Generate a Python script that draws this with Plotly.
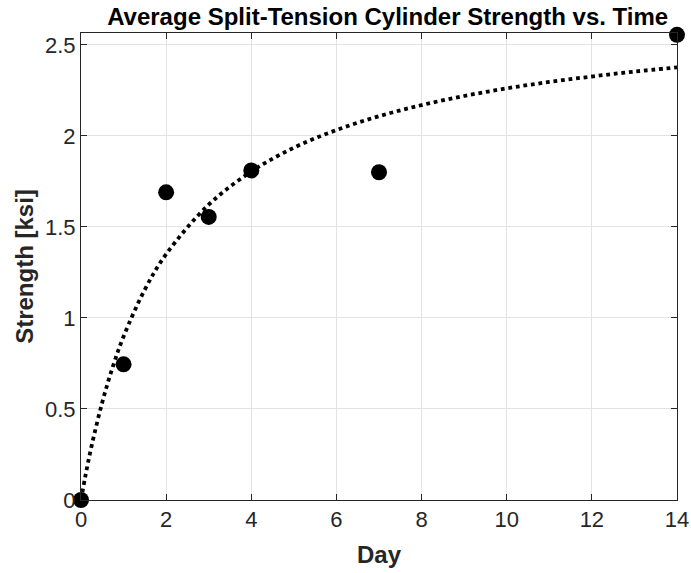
import plotly.graph_objects as go

days = [0, 1, 2, 3, 4, 7, 14]
strength = [0.0, 0.745, 1.69, 1.555, 1.81, 1.80, 2.555]

fit_days = [0, 0.1, 0.25, 0.5, 0.75, 1, 1.5, 2, 3, 4, 5, 6, 7, 8, 9, 10, 11, 12, 13, 14]
fit_strength = [0.0, 0.128, 0.298, 0.537, 0.734, 0.898, 1.156, 1.350, 1.622, 1.804,
                1.935, 2.032, 2.108, 2.169, 2.219, 2.261, 2.296, 2.326, 2.353, 2.376]

x_ticks = [0, 2, 4, 6, 8, 10, 12, 14]
y_ticks = [0, 0.5, 1, 1.5, 2, 2.5]

font = "Liberation Sans, Arial, sans-serif"

fig = go.Figure()
fig.add_trace(go.Scatter(x=fit_days, y=fit_strength, mode="lines",
                         line=dict(color="black", width=3.8, dash="dot", shape="spline"),
                         cliponaxis=False, showlegend=False))
fig.add_trace(go.Scatter(x=days, y=strength, mode="markers",
                         marker=dict(color="black", size=16),
                         cliponaxis=False, showlegend=False))

axis_common = dict(showline=True, linecolor="#262626", linewidth=1, mirror="allticks",
                   ticks="inside", ticklen=6, tickcolor="#262626", automargin=False,
                   showgrid=True, gridcolor="#e3e3e3", gridwidth=1, zeroline=False,
                   tickfont=dict(family=font, size=22, color="#262626"))

fig.update_layout(
    width=691, height=573,
    margin=dict(l=81, r=14, t=33, b=73),
    paper_bgcolor="white", plot_bgcolor="white",
    title=dict(text="<b>Average Split-Tension Cylinder Strength vs. Time</b>",
               x=0.561, xanchor="center", y=0.985, yanchor="top",
               font=dict(family=font, size=24, color="black")),
    xaxis=dict(range=[0, 14], tickvals=x_ticks,
               title=dict(text="<b>Day</b>", font=dict(family=font, size=24, color="#262626"), standoff=14),
               **axis_common),
    yaxis=dict(range=[0, 2.565], tickvals=y_ticks,
               title=dict(text="<b>Strength [ksi]</b>", font=dict(family=font, size=24, color="#262626"), standoff=4),
               **axis_common),
)

fig.write_html("out.html", config={"displayModeBar": False},
               post_script="document.body.style.margin='0px';document.body.style.overflow='hidden';")
